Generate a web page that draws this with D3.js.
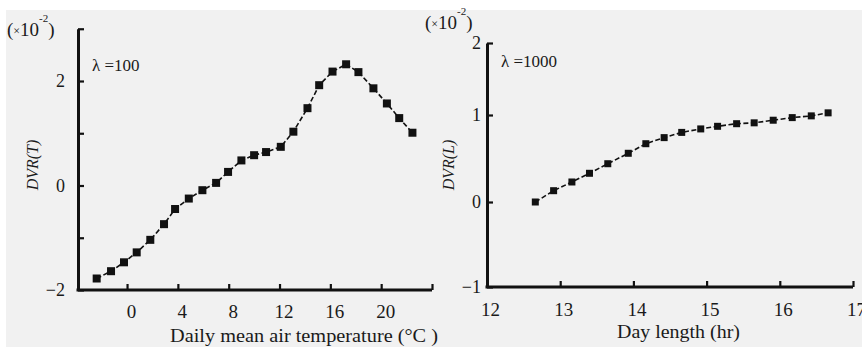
<!DOCTYPE html>
<html>
<head>
<meta charset="utf-8">
<script src="https://cdn.jsdelivr.net/npm/d3@7"></script>
<style>
  html, body { margin: 0; padding: 0; background: #ffffff; }
  svg { display: block; }
  text { font-family: "Liberation Serif", "DejaVu Serif", serif; fill: #1a1a1a; }
</style>
</head>
<body>
<svg id="chart" width="862" height="347"></svg>
<script>
// ---- Data ----
const tempX = [-2.39, -1.26, -0.24, 0.76, 1.83, 2.91, 3.78, 4.86, 5.93, 7.01, 7.95, 9.0, 10.0,
               10.94, 12.1, 13.09, 14.2, 15.12, 16.17, 17.24, 18.21, 19.39, 20.45, 21.42, 22.46];
const dvrT  = [-1.78, -1.64, -1.47, -1.28, -1.04, -0.74, -0.45, -0.25, -0.09, 0.05, 0.26, 0.48, 0.58,
               0.64, 0.74, 1.03, 1.48, 1.92, 2.18, 2.32, 2.17, 1.86, 1.57, 1.29, 1.01];
const dayX  = [12.66, 12.91, 13.16, 13.40, 13.65, 13.93, 14.17, 14.42, 14.66, 14.92, 15.15,
               15.41, 15.65, 15.91, 16.17, 16.43, 16.66];
const dvrL  = [0.00, 0.13, 0.23, 0.33, 0.44, 0.56, 0.67, 0.74, 0.80, 0.84, 0.87,
               0.90, 0.91, 0.94, 0.97, 0.99, 1.03];

const leftXTicks = [0, 4, 8, 12, 16, 20, 24];
const leftXLabels = [0, 4, 8, 12, 16, 20];
const leftYTicks = [-2, -1, 0, 1, 2, 3];
const leftYLabels = [-2, 0, 2];
const rightXTicks = [12, 13, 14, 15, 16, 17];
const rightYTicks = [-1, 0, 1, 2];

const svg = d3.select("#chart");

// background panel
svg.append("rect").attr("x", 6).attr("y", 10).attr("width", 856).attr("height", 337).attr("fill", "#f1f1f1");

// ---- Scales ----
const xL = d3.scaleLinear().domain([-3.86, 24]).range([78, 432]);
const yL = d3.scaleLinear().domain([-2, 3]).range([290, 28.75]);
const xR = d3.scaleLinear().domain([12, 17]).range([487, 853]);
const yR = d3.scaleLinear().domain([-1, 0, 1, 2]).range([287, 202, 115, 43]);

function styleAxis(g) {
  g.select(".domain").attr("stroke", "#111").attr("stroke-width", 3);
  g.selectAll(".tick line").attr("stroke", "#111").attr("stroke-width", 2.2);
  g.selectAll(".tick text").attr("fill", "#1a1a1a")
    .style("font-family", '"Liberation Serif", serif');
}

// ---- Left chart axes ----
const gLx = svg.append("g").attr("transform", `translate(0,${yL(-2)})`)
  .call(d3.axisBottom(xL).tickValues(leftXTicks).tickSizeInner(-6).tickSizeOuter(0).tickPadding(15)
    .tickFormat(d => leftXLabels.includes(d) ? d : ""));
gLx.selectAll(".tick text").attr("font-size", 19).attr("dx", 4);
styleAxis(gLx);
gLx.select(".domain").attr("d", `M${xL.range()[0] - 1.5},0H${xL.range()[1]}`);

const gLy = svg.append("g").attr("transform", `translate(${xL(-3.86)},0)`)
  .call(d3.axisLeft(yL).tickValues(leftYTicks).tickSizeInner(-6).tickSizeOuter(0).tickPadding(13)
    .tickFormat(d => leftYLabels.includes(d) ? d3.format("")(d) : ""));
gLy.selectAll(".tick text").attr("font-size", 18);
styleAxis(gLy);

// ---- Right chart axes ----
const gRx = svg.append("g").attr("transform", `translate(0,${yR(-1)})`)
  .call(d3.axisBottom(xR).tickValues(rightXTicks).tickSizeInner(-6).tickSizeOuter(0).tickPadding(16)
    .tickFormat(d3.format("")));
gRx.selectAll(".tick text").attr("font-size", 19).attr("dx", 3);
styleAxis(gRx);
gRx.select(".domain").attr("d", `M${xR.range()[0] - 1.5},0H${xR.range()[1]}`);

const gRy = svg.append("g").attr("transform", `translate(${xR(12)},0)`)
  .call(d3.axisLeft(yR).tickValues(rightYTicks).tickSizeInner(-6).tickSizeOuter(0).tickPadding(6)
    .tickFormat(d3.format("")));
gRy.selectAll(".tick text").attr("font-size", 18);
styleAxis(gRy);

// ---- Series ----
function drawSeries(xs, ys, xs_, ys_, size) {
  const pts = xs.map((x, i) => [xs_(x), ys_(ys[i])]);
  svg.append("path").attr("d", d3.line()(pts))
    .attr("fill", "none").attr("stroke", "#111").attr("stroke-width", 1.6)
    .attr("stroke-dasharray", "5,2.5");
  svg.append("g").selectAll("rect").data(pts).join("rect")
    .attr("x", d => d[0] - size / 2).attr("y", d => d[1] - size / 2)
    .attr("width", size).attr("height", size).attr("fill", "#111");
}
drawSeries(tempX, dvrT, xL, yL, 8);
drawSeries(dayX, dvrL, xR, yR, 7);

// ---- Texts ----
function sci(x, y) {
  const t = svg.append("text").attr("x", x).attr("y", y).attr("font-size", 19);
  t.append("tspan").text("(");
  t.append("tspan").attr("font-size", 12).attr("dy", -1).text("×");
  t.append("tspan").attr("dy", 1).text("10");
  t.append("tspan").attr("font-size", 11).attr("dy", -14).text("-2");
  t.append("tspan").attr("dy", 14).text(")");
}
sci(7, 36);
sci(425, 29);

svg.append("text").attr("x", 92).attr("y", 71).attr("font-size", 17).text("λ =100");
svg.append("text").attr("x", 501).attr("y", 67).attr("font-size", 17).text("λ =1000");

svg.append("text").attr("transform", "translate(38,165) rotate(-90)")
  .attr("text-anchor", "middle").attr("font-size", 16).attr("font-style", "italic").text("DVR(T)");
svg.append("text").attr("transform", "translate(454,165) rotate(-90)")
  .attr("text-anchor", "middle").attr("font-size", 16).attr("font-style", "italic").text("DVR(L)");

svg.append("text").attr("x", 170).attr("y", 342).attr("font-size", 19)
  .attr("textLength", 268).attr("lengthAdjust", "spacingAndGlyphs")
  .text("Daily mean air temperature (°C )");
svg.append("text").attr("x", 617).attr("y", 338).attr("font-size", 19)
  .attr("textLength", 123).attr("lengthAdjust", "spacingAndGlyphs")
  .text("Day length (hr)");
</script>
</body>
</html>
